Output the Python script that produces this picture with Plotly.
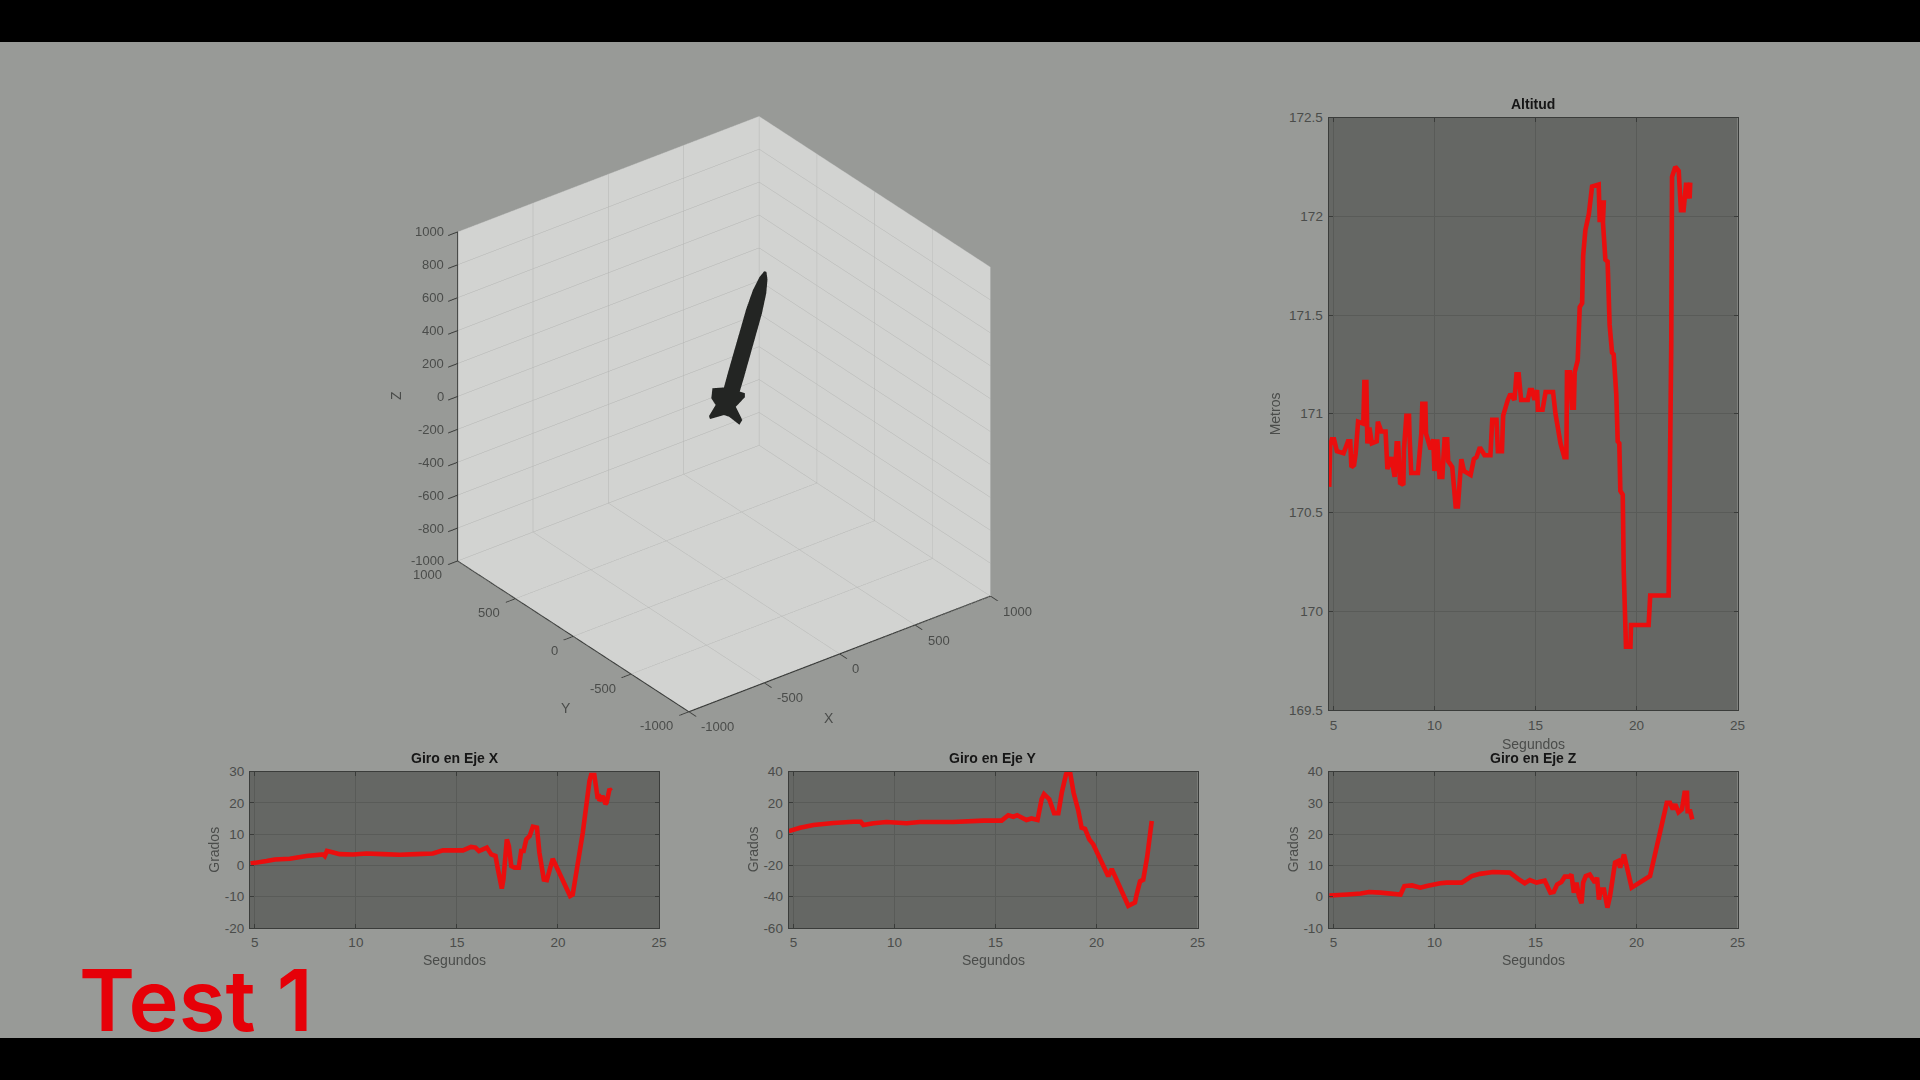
import math
import plotly.graph_objects as go

# ---------- data ----------
alt_t = [4.79,4.84,4.92,5.03,5.17,5.5,5.72,5.83,5.89,6.02,6.1,6.22,6.48,6.53,6.63,6.68,6.78,6.9,7.14,7.2,7.37,7.58,7.67,7.87,8.03,8.13,8.2,8.3,8.46,8.49,8.61,8.74,8.77,8.85,9.18,9.35,9.4,9.55,9.58,9.81,9.94,10.0,10.14,10.25,10.39,10.5,10.63,10.68,10.88,11.05,11.16,11.33,11.46,11.79,11.95,12.08,12.25,12.48,12.77,12.86,13.07,13.14,13.34,13.4,13.63,13.76,13.96,14.06,14.17,14.29,14.62,14.72,14.83,14.95,15.08,15.12,15.35,15.5,15.87,15.99,16.24,16.43,16.53,16.56,16.7,16.81,16.9,16.94,17.09,17.19,17.31,17.36,17.47,17.64,17.8,18.13,18.18,18.25,18.38,18.34,18.46,18.57,18.67,18.79,18.87,19.0,19.07,19.15,19.2,19.32,19.37,19.48,19.7,19.73,20.6,20.68,21.59,21.72,21.76,21.92,22.09,22.2,22.33,22.46,22.55,22.66,22.63]
alt_v = [170.63,170.84,170.87,170.87,170.81,170.80,170.86,170.86,170.73,170.74,170.80,170.96,170.95,171.16,171.16,170.85,170.93,170.85,170.86,170.96,170.91,170.91,170.72,170.78,170.68,170.85,170.85,170.65,170.64,170.82,170.99,170.99,170.88,170.70,170.70,170.90,171.05,171.05,170.90,170.82,170.87,170.71,170.87,170.68,170.68,170.87,170.87,170.76,170.73,170.53,170.53,170.77,170.71,170.69,170.77,170.78,170.83,170.79,170.79,170.97,170.97,170.81,170.81,170.99,171.07,171.10,171.07,171.20,171.20,171.07,171.07,171.12,171.12,171.07,171.12,171.02,171.02,171.11,171.11,171.00,170.85,170.78,170.78,171.21,171.21,171.03,171.03,171.21,171.27,171.54,171.56,171.80,171.93,172.01,172.15,172.16,171.97,172.07,172.07,171.97,171.78,171.77,171.45,171.31,171.30,171.10,170.86,170.85,170.61,170.59,170.20,169.82,169.82,169.93,169.93,170.08,170.08,171.34,172.20,172.25,172.23,172.03,172.03,172.17,172.09,172.17,172.09]

gx_t = [4.79,5.58,5.99,6.73,7.55,8.38,8.46,8.57,8.79,9.2,9.85,10.52,11.34,12.17,12.99,13.81,14.31,15.3,15.7,15.92,16.09,16.48,16.7,16.91,17.03,17.22,17.3,17.47,17.57,17.69,17.85,18.06,18.18,18.3,18.43,18.6,18.76,18.96,19.08,19.3,19.45,19.74,20.6,20.73,21.23,21.56,21.64,21.8,21.97,22.02,22.05,22.21,22.35,22.41,22.55,22.63]
gx_v = [0.6,1.4,1.9,2.1,3.0,3.5,3.0,4.6,4.3,3.6,3.5,3.8,3.6,3.4,3.6,3.8,4.8,4.8,5.9,5.7,4.6,5.7,3.5,3.0,-1.3,-7.4,-4.5,8.3,6.2,-0.2,-0.7,-0.7,4.6,4.6,8.3,9.4,12.4,12.1,4.1,-4.5,-4.7,2.1,-9.8,-9.3,10.5,27,28.9,28.9,21.2,22.8,20.6,22.2,19.6,20.1,24.4,23.8]

gy_t = [4.77,5.33,5.99,6.98,7.97,8.33,8.46,8.96,9.6,10.6,11.25,12.9,14.4,15.3,15.63,15.88,16.07,16.53,16.78,17.08,17.28,17.4,17.66,17.9,18.11,18.28,18.49,18.69,18.86,19.1,19.26,19.43,19.64,19.84,20.58,20.75,21.57,21.9,21.98,22.15,22.31,22.51,22.73]
gy_v = [1.9,4.1,5.8,7.1,7.9,7.9,5.8,6.9,7.7,6.9,7.7,7.7,8.6,8.6,12,11.1,12,9,10,9,22.3,25.5,22.3,13.3,13.3,26.6,38.3,39.4,26.6,14.8,4.1,3.4,-3.4,-6.6,-27,-22.3,-45.8,-43.7,-38.8,-30.2,-29.1,-14.1,8.4]

gz_t = [4.8,5.69,6.35,6.76,7.33,8.32,8.51,8.89,9.3,9.62,10.28,10.6,11.35,11.85,12.25,12.9,13.73,14.14,14.47,14.72,15.05,15.46,15.74,15.9,16.07,16.28,16.45,16.7,16.78,16.9,17.03,17.15,17.28,17.36,17.49,17.69,17.94,18.05,18.14,18.24,18.39,18.56,18.69,18.94,19.1,19.19,19.38,19.76,20.67,21.5,21.66,21.8,21.92,22.08,22.25,22.38,22.5,22.53,22.66,22.76]
gz_v = [0.4,0.7,1.0,1.5,1.3,0.7,3.4,3.6,2.9,3.4,4.3,4.5,4.5,6.6,7.3,7.9,7.7,5.7,4.3,5.3,4.5,5.1,1.3,1.5,3.9,4.7,6.4,6.4,7.1,1.3,4.5,0.2,-2.1,4.5,6.6,7.1,4.5,6.1,-0.9,2.3,2.3,-3.5,0.2,10.9,11.4,9.3,13.5,2.9,6.6,30,30,27.9,29.5,27,27.9,33.2,33.2,27.3,27.3,24.7]

time_ticks = [5, 10, 15, 20, 25]
alt_ticks = [169.5, 170, 170.5, 171, 171.5, 172, 172.5]
gx_ticks = [-20, -10, 0, 10, 20, 30]
gy_ticks = [-60, -40, -20, 0, 20, 40]
gz_ticks = [-10, 0, 10, 20, 30, 40]
xy_ticks = [-1000, -500, 0, 500, 1000]
z_ticks = [-1000, -800, -600, -400, -200, 0, 200, 400, 600, 800, 1000]

# rocket, in the units of the 3D axes
rocket_tail = [29, 8, 41]
rocket_nose = [400, 164, 650]
rocket_s = [0.0, 0.22, 0.7, 0.85, 0.95, 1.0]      # fraction of the length
rocket_r = [42, 44, 43, 36, 22, 6]                # body radius
# outline of the tail fins seen along the line of sight, offsets in axis units (right, up)
fin_right = [-79, -9, 92, 92, 44, 78, 63, 9, -18, -92, -97, -62, -85]
fin_up = [88, 93, 62, 41, -9, -79, -104, -62, -53, -74, -58, 0, 35]

# ---------- styling ----------
BG, PLOT, INK, FRAME, GRID, RED = "#989a97", "#656764", "#4a4c4a", "#3a3c3a", "#595b58", "#ea0e0e"
W, H = 1920, 1080
FONT = "Liberation Sans"


def px(v):
    return v / W


def py(v):
    return 1 - v / H


panels = [
    ("", "", 1328.6, 1737.5, 117.5, 710.0, alt_t, alt_v, [169.5, 172.5], alt_ticks, "Altitud", "Metros", 54, 34, 3),
    ("2", "2", 250.0, 659.0, 771.5, 928.0, gx_t, gx_v, [-20, 30], gx_ticks, "Giro en Eje X", "Grados", 36, 32, 2),
    ("3", "3", 788.6, 1197.6, 771.5, 928.0, gy_t, gy_v, [-60, 40], gy_ticks, "Giro en Eje Y", "Grados", 36, 32, 2),
    ("4", "4", 1328.6, 1737.5, 771.5, 928.0, gz_t, gz_v, [-10, 40], gz_ticks, "Giro en Eje Z", "Grados", 36, 32, 2),
]

fig = go.Figure()
annotations = []

for xs, ys, x0, x1, y0, y1, t, v, yr, yt, title, ylab, yoff, xoff, stand in panels:
    fig.add_trace(go.Scatter(x=t, y=v, mode="lines", xaxis="x" + xs, yaxis="y" + ys,
                             line=dict(color=RED, width=4.6, simplify=False), showlegend=False, hoverinfo="skip"))
    common = dict(showgrid=True, gridcolor=GRID, gridwidth=1, zeroline=False, showline=True, mirror="ticks",
                  linecolor=FRAME, linewidth=1, ticks="inside", ticklen=4, tickcolor=FRAME, automargin=False,
                  tickfont=dict(family=FONT, size=13.5, color=INK))
    fig.layout["xaxis" + xs] = dict(domain=[px(x0), px(x1)], range=[4.76, 25], tickvals=time_ticks,
                                    anchor="y" + ys, ticklabelstandoff=stand, **common)
    fig.layout["yaxis" + ys] = dict(domain=[py(y1), py(y0)], range=yr, tickvals=yt,
                                    ticktext=[str(n) for n in yt], anchor="x" + xs, ticklabelstandoff=2, **common)
    annotations.append(dict(text="<b>%s</b>" % title, x=px((x0 + x1) / 2), y=py(y0 - 13.5), xref="paper", yref="paper",
                            showarrow=False, xanchor="center", yanchor="middle",
                            font=dict(family=FONT, size=14, color="#161616")))
    annotations.append(dict(text="Segundos", x=px((x0 + x1) / 2), y=py(y1 + xoff), xref="paper", yref="paper",
                            showarrow=False, xanchor="center", yanchor="middle",
                            font=dict(family=FONT, size=14, color=INK)))
    annotations.append(dict(text=ylab, x=px(x0 - yoff), y=py((y0 + y1) / 2), xref="paper", yref="paper", textangle=-90,
                            showarrow=False, xanchor="center", yanchor="middle",
                            font=dict(family=FONT, size=14, color=INK)))

# ---------- rocket mesh ----------
ax = [rocket_nose[n] - rocket_tail[n] for n in range(3)]
length = math.sqrt(sum(c * c for c in ax))
a = [c / length for c in ax]
ref = [0, 1, 0]
u = [a[1] * ref[2] - a[2] * ref[1], a[2] * ref[0] - a[0] * ref[2], a[0] * ref[1] - a[1] * ref[0]]
un = math.sqrt(sum(c * c for c in u))
u = [c / un for c in u]
w = [a[1] * u[2] - a[2] * u[1], a[2] * u[0] - a[0] * u[2], a[0] * u[1] - a[1] * u[0]]


def pt(s, r, ang):
    c, d = math.cos(math.radians(ang)), math.sin(math.radians(ang))
    return [rocket_tail[n] + s * ax[n] + r * (c * u[n] + d * w[n]) for n in range(3)]


vx, vy, vz, fi, fj, fk = [], [], [], [], [], []


def add(p):
    vx.append(p[0]); vy.append(p[1]); vz.append(p[2])
    return len(vx) - 1


def join(b, c):
    M = len(b)
    for m in range(M):
        n = (m + 1) % M
        fi.extend([b[m], b[n]]); fj.extend([b[n], c[n]]); fk.extend([c[m], c[m]])


N = 16
rings = [[add(pt(s, r, 360 * m / N)) for m in range(N)] for s, r in zip(rocket_s, rocket_r)]
for b, c in zip(rings[:-1], rings[1:]):
    join(b, c)

# view-facing directions for the default MATLAB view (azimuth -37.5, elevation 30)
screen_right = [0.793, -0.609, 0.0]
screen_up = [0.3045, 0.3965, 0.866]
centre = add(rocket_tail)
outline = []
for dr, du in zip(fin_right, fin_up):
    outline.append(add([rocket_tail[n] + dr * screen_right[n] + du * screen_up[n] for n in range(3)]))
for m in range(len(outline)):
    fi.append(centre); fj.append(outline[m]); fk.append(outline[(m + 1) % len(outline)])

fig.add_trace(go.Mesh3d(x=vx, y=vy, z=vz, i=fi, j=fj, k=fk, color="#232523", flatshading=True,
                        lighting=dict(ambient=1, diffuse=0, specular=0, fresnel=0), hoverinfo="skip", showlegend=False))

WALL, GRID3 = "#d2d3d1", "#b4b5b3"


def axis3(vals):
    return dict(title=dict(text=""), range=[-1000, 1000], tickvals=vals, showticklabels=False,
                showbackground=True, backgroundcolor=WALL,
                gridcolor=GRID3, gridwidth=1, zeroline=False, showline=True, linecolor="#3a3c3a", linewidth=2.5,
                ticks="outside", ticklen=12, tickwidth=2, tickcolor="#3a3c3a", showspikes=False)


def tick_note(x, y, z, text, anchor, xs, ys):
    return dict(x=x, y=y, z=z, text=text, showarrow=False, xanchor=anchor, yanchor="middle", xshift=xs, yshift=ys,
                font=dict(family=FONT, size=13, color=INK))


scene_notes = ([tick_note(v, -1000, -1000, str(v), "left", 11, -15) for v in xy_ticks]
               + [tick_note(-1000, v, -1000, str(v), "right", -13, -14) for v in xy_ticks]
               + [tick_note(-1000, 1000, v, str(v), "right", -11, 0) for v in z_ticks])

axis_labels = [("X", 829, 717.5, 0), ("Y", 566, 708, 0), ("Z", 395.5, 395.5, -90)]
for txt, lx, ly, rot in axis_labels:
    annotations.append(dict(text=txt, x=px(lx), y=py(ly), xref="paper", yref="paper", showarrow=False, textangle=rot,
                            xanchor="center", yanchor="middle", font=dict(family=FONT, size=14, color=INK)))

scene_cx, scene_cy, scene_half = 723.5, 414.0, 380.0
eye_k = 2.0
fig.update_layout(
    width=W, height=H, autosize=False, margin=dict(l=0, r=0, t=0, b=0, pad=0), paper_bgcolor=BG, plot_bgcolor=PLOT,
    showlegend=False,
    scene=dict(domain=dict(x=[px(scene_cx - scene_half), px(scene_cx + scene_half)],
                           y=[py(scene_cy + scene_half), py(scene_cy - scene_half)]),
               aspectmode="cube", xaxis=axis3(xy_ticks), yaxis=axis3(xy_ticks), zaxis=axis3(z_ticks),
               annotations=scene_notes,
               camera=dict(projection=dict(type="orthographic"), up=dict(x=0, y=0, z=1), center=dict(x=0, y=0, z=0),
                           eye=dict(x=-0.527 * eye_k, y=-0.687 * eye_k, z=0.5 * eye_k))),
    shapes=[dict(type="rect", xref="paper", yref="paper", x0=0, x1=1, y0=py(42), y1=1, fillcolor="#000", line_width=0, layer="above"),
            dict(type="rect", xref="paper", yref="paper", x0=0, x1=1, y0=0, y1=py(1038), fillcolor="#000", line_width=0, layer="above")],
    annotations=annotations + [dict(text="Test 1", x=px(77), y=py(1000), xref="paper", yref="paper", showarrow=False,
                                    xanchor="left", yanchor="middle", font=dict(family="Inter", size=85, weight=600, color="#e60008"))],
)

fig.write_html("out.html", config=dict(displayModeBar=False),
               post_script="document.documentElement.style.overflow='hidden';document.body.style.margin='0';"
                           "var d=document.getElementById('{plot_id}');d.style.position='fixed';d.style.left='0';d.style.top='0';")
